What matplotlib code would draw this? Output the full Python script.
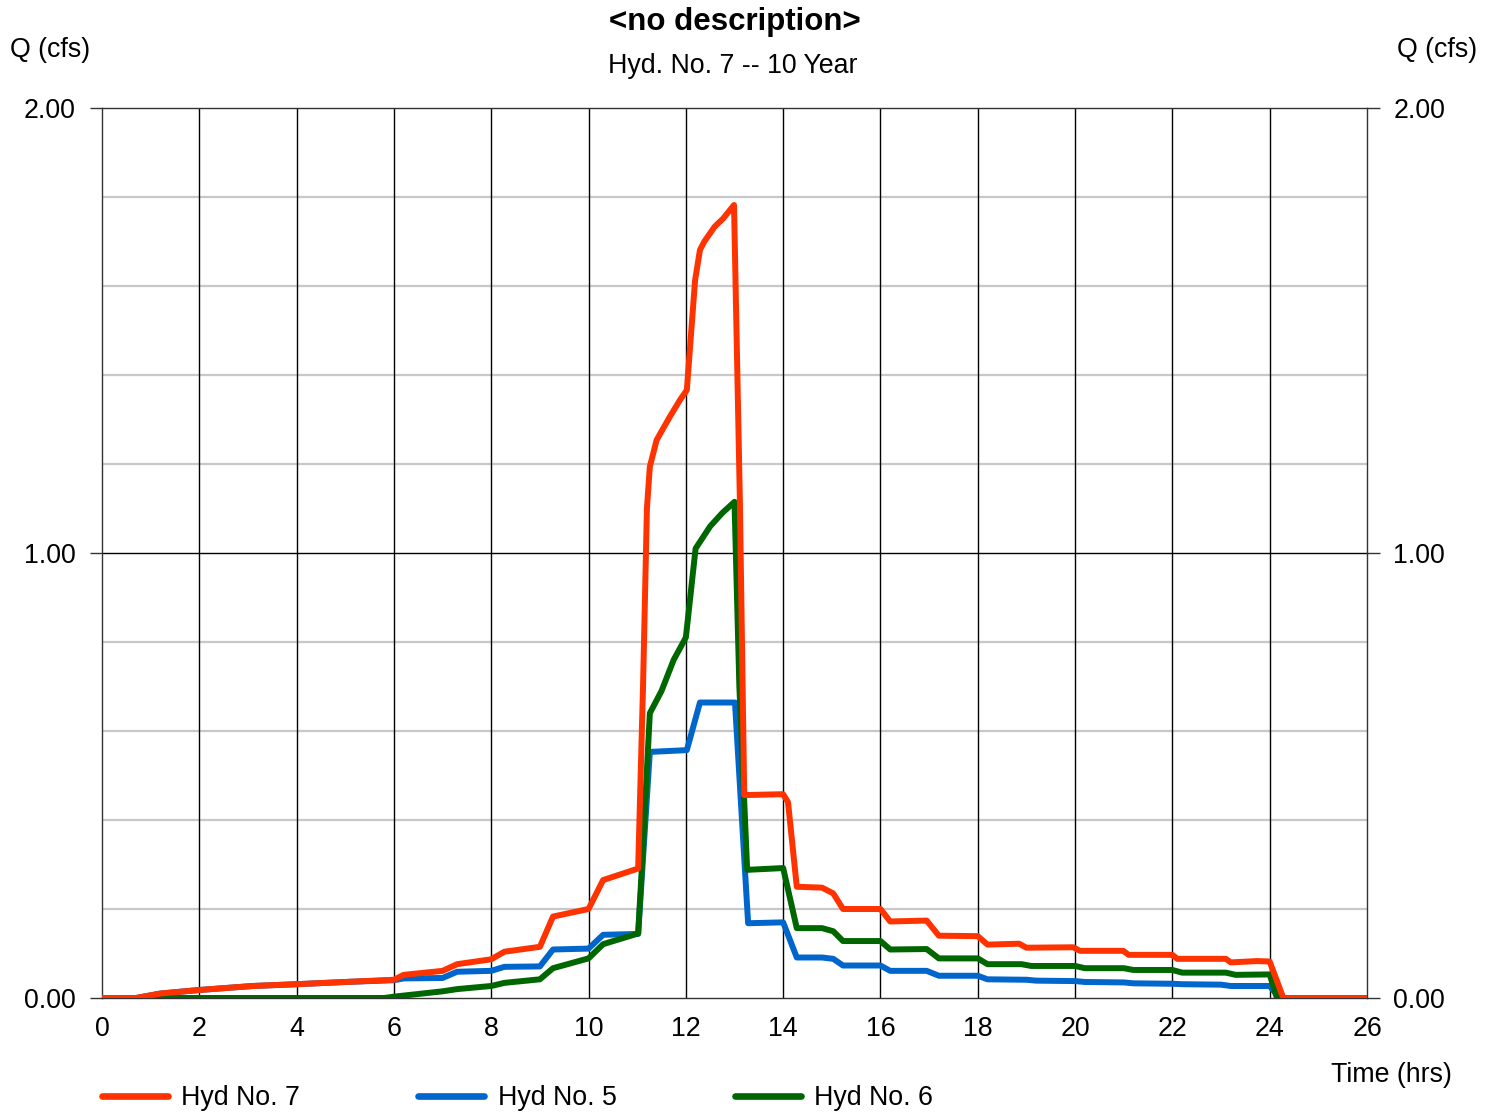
import matplotlib
matplotlib.use('Agg')
import matplotlib.pyplot as plt
from matplotlib.lines import Line2D

plt.rcParams['font.family'] = ['Liberation Sans', 'DejaVu Sans']

# Hyd No. 7 (combined)
t7 = [0, 0.7, 1.2, 2.0, 3.1, 4.0, 5.0, 6.0, 6.2, 7.0, 7.3, 8.0, 8.27, 9.0, 9.27, 10.0,
      10.3, 11.02, 11.12, 11.2, 11.26, 11.4, 11.67, 11.88, 12.02, 12.19, 12.29, 12.38,
      12.59, 12.77, 12.99, 13.11, 13.2, 14.0, 14.1, 14.28, 14.8, 15.03, 15.23, 16.0,
      16.2, 16.95, 17.2, 18.0, 18.2, 18.85, 19.0, 19.96, 20.1, 20.99, 21.1, 22.0, 22.1,
      23.1, 23.2, 23.74, 24.0, 24.28, 26.0]
q7 = [0, 0, 0.01, 0.018, 0.027, 0.031, 0.036, 0.041, 0.052, 0.061, 0.076, 0.087, 0.104,
      0.115, 0.183, 0.2, 0.265, 0.291, 0.7, 1.1, 1.194, 1.254, 1.306, 1.344, 1.366, 1.613,
      1.681, 1.70, 1.733, 1.752, 1.782, 1.12, 0.456, 0.458, 0.44, 0.25, 0.248, 0.235, 0.2,
      0.2, 0.172, 0.174, 0.14, 0.139, 0.12, 0.122, 0.113, 0.114, 0.106, 0.106, 0.097,
      0.097, 0.088, 0.088, 0.08, 0.083, 0.082, 0, 0]

# Hyd No. 5
t5 = [0, 0.7, 1.2, 2.0, 3.1, 4.0, 5.0, 6.0, 6.2, 7.0, 7.3, 8.0, 8.27, 9.0, 9.27, 10.0,
      10.3, 11.02, 11.26, 12.02, 12.29, 13.01, 13.28, 14.0, 14.28, 14.8, 15.03, 15.23,
      16.0, 16.2, 16.95, 17.2, 18.0, 18.2, 19.0, 19.2, 20.0, 20.2, 21.0, 21.2, 22.0, 22.2,
      23.0, 23.2, 24.0, 24.2, 26.0]
q5 = [0, 0, 0.01, 0.018, 0.027, 0.031, 0.036, 0.04, 0.044, 0.045, 0.059, 0.061, 0.07,
      0.071, 0.109, 0.111, 0.142, 0.144, 0.553, 0.557, 0.664, 0.664, 0.168, 0.17, 0.091,
      0.091, 0.088, 0.073, 0.073, 0.061, 0.061, 0.05, 0.05, 0.042, 0.041, 0.039, 0.038,
      0.036, 0.035, 0.033, 0.032, 0.031, 0.03, 0.027, 0.027, 0, 0]

# Hyd No. 6
t6 = [0, 5.8, 6.0, 7.0, 7.3, 8.0, 8.27, 9.0, 9.27, 10.0, 10.3, 11.02, 11.1, 11.26, 11.5,
      11.75, 12.0, 12.2, 12.5, 12.75, 13.0, 13.1, 13.26, 14.0, 14.28, 14.8, 15.03, 15.23,
      16.0, 16.2, 16.95, 17.2, 18.0, 18.2, 18.9, 19.1, 20.0, 20.2, 21.0, 21.2, 22.0, 22.2,
      23.1, 23.3, 24.0, 24.15, 26.0]
q6 = [0, 0, 0.003, 0.015, 0.02, 0.027, 0.034, 0.042, 0.067, 0.089, 0.121, 0.145, 0.3,
      0.64, 0.69, 0.76, 0.81, 1.01, 1.06, 1.09, 1.115, 0.7, 0.288, 0.292, 0.157, 0.157,
      0.15, 0.128, 0.128, 0.109, 0.11, 0.089, 0.089, 0.076, 0.076, 0.072, 0.072, 0.067,
      0.067, 0.063, 0.063, 0.057, 0.057, 0.052, 0.053, 0, 0]

c7, c5, c6 = '#ff3300', '#0066cc', '#006600'
fs = 19.3

fig = plt.figure(figsize=(14.97, 11.12), dpi=100)
ax = fig.add_axes([102 / 1497, 1 - 998 / 1112, 1265 / 1497, 890 / 1112])

ax.set_xlim(0, 26)
ax.set_ylim(0, 2)

# grid
for y in [0.2, 0.4, 0.6, 0.8, 1.2, 1.4, 1.6, 1.8]:
    ax.axhline(y, color='#c8c8c8', lw=1.6, zorder=1)
ax.axhline(1.0, color='black', lw=1.0, zorder=1)
for x in range(2, 26, 2):
    ax.axvline(x, color='black', lw=1.0, zorder=1)

kw = dict(lw=4.3, solid_capstyle='round', solid_joinstyle='round')
ax.plot(t5, q5, color=c5, zorder=3, **kw)
ax.plot(t6, q6, color=c6, zorder=4, **kw)
ax.plot(t7, q7, color=c7, zorder=5, **kw)

for s in ax.spines.values():
    s.set_color('#333333')
    s.set_linewidth(1.0)

ax.set_xticks(range(0, 27, 2))
ax.set_yticks([0, 1, 2])
ax.set_yticklabels(['0.00', '1.00', '2.00'])
ax.tick_params(axis='x', length=0, pad=13, labelsize=fs)
ax.tick_params(axis='y', length=9, width=1, color='#333333', pad=10, labelsize=fs,
               right=True, labelright=True, direction='out')

fig.text(735 / 1497, 1 - 22 / 1112, '<no description>', ha='center', va='center',
         fontsize=22.5, fontweight='bold')
fig.text(733 / 1497, 1 - 66 / 1112, 'Hyd. No. 7 -- 10 Year', ha='center', va='center',
         fontsize=fs)
fig.text(10 / 1497, 1 - 50 / 1112, 'Q (cfs)', ha='left', va='center', fontsize=fs)
fig.text(1477 / 1497, 1 - 50 / 1112, 'Q (cfs)', ha='right', va='center', fontsize=fs)
fig.text(1452 / 1497, 1 - 1075 / 1112, 'Time (hrs)', ha='right', va='center', fontsize=fs)

handles = [Line2D([], [], color=c7, lw=4.8, solid_capstyle='round'),
           Line2D([], [], color=c5, lw=4.8, solid_capstyle='round'),
           Line2D([], [], color=c6, lw=4.8, solid_capstyle='round')]
fig.legend(handles, ['Hyd No. 7', 'Hyd No. 5', 'Hyd No. 6'], ncol=3, frameon=False,
           loc='center left', bbox_to_anchor=(102 / 1497, 1 - 1098 / 1112),
           borderaxespad=0, borderpad=0, fontsize=fs, handlelength=2.46,
           handletextpad=0.49, columnspacing=4.42)

fig.savefig('out.png', dpi=100)
